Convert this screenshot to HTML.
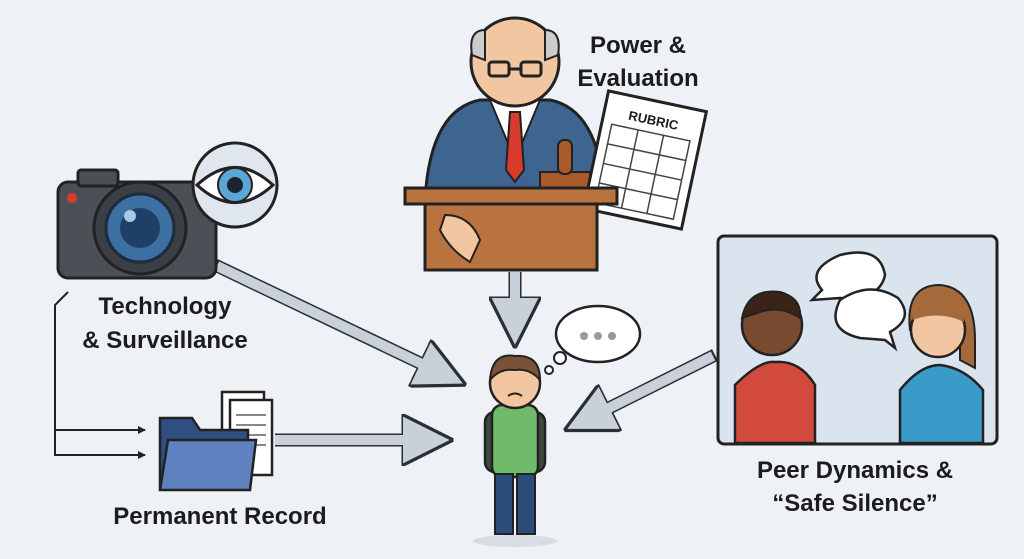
<!DOCTYPE html>
<html><head><meta charset="utf-8"><style>
html,body{margin:0;padding:0;background:#eef2f6;}
svg{display:block;}
text{font-family:"Liberation Sans",sans-serif;font-weight:bold;fill:#1c1c1c;}
</style></head><body>
<svg width="1024" height="559" viewBox="0 0 1024 559" xmlns="http://www.w3.org/2000/svg">
<rect width="1024" height="559" fill="#eef2f6"/>
<defs>
<marker id="ah" markerWidth="4" markerHeight="4" refX="2.2" refY="2" orient="auto" markerUnits="strokeWidth">
<path d="M0,0 L4,2 L0,4 Z" fill="#c8d1da" stroke="#2a2f36" stroke-width="0.25"/></marker>
<marker id="sm" markerWidth="8" markerHeight="8" refX="7" refY="4" orient="auto" markerUnits="userSpaceOnUse">
<path d="M0,0 L8,4 L0,8 Z" fill="#222"/></marker>
</defs>

<!-- big arrows -->
<g stroke="#2a2f36" stroke-width="13" stroke-linecap="butt">
<line x1="215" y1="265" x2="445" y2="375" marker-end="url(#ah)"/>
<line x1="275" y1="440" x2="430" y2="440" marker-end="url(#ah)"/>
<line x1="515" y1="272" x2="515" y2="325" marker-end="url(#ah)"/>
<line x1="715" y1="355" x2="585" y2="420" marker-end="url(#ah)"/>
</g>
<g stroke="#c8d1da" stroke-width="10">
<line x1="217" y1="266" x2="445" y2="375"/>
<line x1="275" y1="440" x2="430" y2="440"/>
<line x1="515" y1="272" x2="515" y2="325"/>
<line x1="713" y1="356" x2="585" y2="420"/>
</g>

<!-- camera -->
<rect x="58" y="182" width="158" height="96" rx="10" fill="#4b5056" stroke="#222" stroke-width="3"/>
<rect x="78" y="170" width="40" height="16" rx="3" fill="#4b5056" stroke="#222" stroke-width="3"/>
<circle cx="72" cy="198" r="5" fill="#e23a2a"/>
<circle cx="140" cy="228" r="46" fill="#3a3f45" stroke="#222" stroke-width="3"/>
<circle cx="140" cy="228" r="34" fill="#3c6fa2" stroke="#1e2c3c" stroke-width="3"/>
<circle cx="140" cy="228" r="20" fill="#1f3f66"/>
<circle cx="130" cy="216" r="6" fill="#a8c8e6"/>
<!-- eye -->
<circle cx="235" cy="185" r="42" fill="#dfe6ee" stroke="#222" stroke-width="3"/>
<path d="M197,185 Q235,150 273,185 Q235,220 197,185 Z" fill="#fff" stroke="#222" stroke-width="3"/>
<circle cx="235" cy="185" r="17" fill="#5aa6d4" stroke="#222" stroke-width="2"/>
<circle cx="235" cy="185" r="8" fill="#1b2530"/>

<text x="165" y="314" font-size="24" text-anchor="middle">Technology</text>
<text x="165" y="348" font-size="24" text-anchor="middle">&amp; Surveillance</text>

<!-- bracket lines -->
<polyline points="68,292 55,305 55,455 145,455" fill="none" stroke="#222" stroke-width="2" marker-end="url(#sm)"/>
<line x1="55" y1="430" x2="145" y2="430" stroke="#222" stroke-width="2" marker-end="url(#sm)"/>

<!-- folder & docs -->
<rect x="222" y="392" width="42" height="72" fill="#fff" stroke="#222" stroke-width="2.5"/>
<rect x="230" y="400" width="42" height="75" fill="#fff" stroke="#222" stroke-width="2.5"/>
<g stroke="#888" stroke-width="2"><line x1="236" y1="415" x2="266" y2="415"/><line x1="236" y1="425" x2="266" y2="425"/><line x1="236" y1="435" x2="266" y2="435"/><line x1="236" y1="445" x2="266" y2="445"/></g>
<path d="M160,418 L160,488 L248,488 L248,430 L200,430 L192,418 Z" fill="#2f4f80" stroke="#222" stroke-width="2.5"/>
<path d="M168,440 L256,440 L250,490 L160,490 Z" fill="#5d82bf" stroke="#222" stroke-width="2.5"/>
<text x="220" y="524" font-size="24" text-anchor="middle">Permanent Record</text>

<!-- teacher -->
<path d="M425,200 Q430,110 480,100 L550,100 Q600,110 605,200 Z" fill="#3e6590" stroke="#222" stroke-width="3"/>
<path d="M490,100 L515,160 L540,100 Z" fill="#fff" stroke="#222" stroke-width="2"/>
<path d="M510,112 L520,112 L524,170 L515,182 L506,170 Z" fill="#d83a2c" stroke="#222" stroke-width="2"/>
<circle cx="515" cy="62" r="44" fill="#f2c6a0" stroke="#222" stroke-width="3"/>
<path d="M472,55 Q468,30 485,30 L485,60 Z M558,55 Q562,30 545,30 L545,60 Z" fill="#ccc" stroke="#222" stroke-width="2"/>
<rect x="489" y="62" width="20" height="14" rx="3" fill="none" stroke="#222" stroke-width="3"/>
<rect x="521" y="62" width="20" height="14" rx="3" fill="none" stroke="#222" stroke-width="3"/>
<line x1="509" y1="69" x2="521" y2="69" stroke="#222" stroke-width="3"/>
<rect x="540" y="172" width="50" height="18" fill="#a85a2a" stroke="#222" stroke-width="2"/>
<rect x="558" y="140" width="14" height="34" rx="6" fill="#a85a2a" stroke="#222" stroke-width="2"/>
<!-- rubric -->
<g transform="rotate(12 645 160)">
<rect x="595" y="100" width="100" height="120" fill="#fff" stroke="#222" stroke-width="3"/>
<text x="645" y="124" font-size="13" text-anchor="middle">RUBRIC</text>
<g stroke="#444" stroke-width="1.5" fill="none">
<rect x="605" y="132" width="80" height="80"/>
<line x1="605" y1="152" x2="685" y2="152"/><line x1="605" y1="172" x2="685" y2="172"/><line x1="605" y1="192" x2="685" y2="192"/>
<line x1="632" y1="132" x2="632" y2="212"/><line x1="658" y1="132" x2="658" y2="212"/>
</g></g>
<!-- podium -->
<rect x="405" y="188" width="212" height="16" fill="#b8733f" stroke="#222" stroke-width="3"/>
<rect x="425" y="204" width="172" height="66" fill="#b8733f" stroke="#222" stroke-width="3"/>
<path d="M445,215 Q470,215 480,240 L470,262 Q450,250 440,230 Z" fill="#f2c6a0" stroke="#222" stroke-width="2"/>
<text x="638" y="53" font-size="24" text-anchor="middle">Power &amp;</text>
<text x="638" y="86" font-size="24" text-anchor="middle">Evaluation</text>

<!-- student -->
<ellipse cx="515" cy="541" rx="42" ry="6" fill="#d6dde4"/>
<rect x="485" y="412" width="60" height="60" rx="10" fill="#3e4a40" stroke="#222" stroke-width="2.5"/>
<rect x="492" y="405" width="46" height="72" rx="10" fill="#6fbb6a" stroke="#222" stroke-width="2.5"/>
<rect x="495" y="474" width="18" height="60" fill="#2c4d7a" stroke="#222" stroke-width="2"/>
<rect x="517" y="474" width="18" height="60" fill="#2c4d7a" stroke="#222" stroke-width="2"/>
<circle cx="515" cy="383" r="25" fill="#f2c6a0" stroke="#222" stroke-width="2.5"/>
<path d="M490,380 Q492,352 515,356 Q540,354 540,380 Q530,368 515,370 Q500,368 490,380 Z" fill="#7a5236" stroke="#222" stroke-width="2"/>
<path d="M508,396 Q515,391 522,396" fill="none" stroke="#222" stroke-width="2"/>
<!-- thought -->
<circle cx="549" cy="370" r="4" fill="#fff" stroke="#222" stroke-width="2"/>
<circle cx="560" cy="358" r="6" fill="#fff" stroke="#222" stroke-width="2"/>
<ellipse cx="598" cy="334" rx="42" ry="28" fill="#fff" stroke="#222" stroke-width="2.5"/>
<g fill="#999"><circle cx="584" cy="336" r="4"/><circle cx="598" cy="336" r="4"/><circle cx="612" cy="336" r="4"/></g>

<!-- peer panel -->
<rect x="718" y="236" width="279" height="208" rx="6" fill="#d9e4ee" stroke="#222" stroke-width="3"/>
<path d="M735,443 L735,385 Q760,360 775,362 Q800,360 815,385 L815,443 Z" fill="#d24a3c" stroke="#222" stroke-width="2.5"/>
<circle cx="772" cy="325" r="30" fill="#7a4a30" stroke="#222" stroke-width="2.5"/>
<path d="M742,318 Q748,288 780,292 Q802,298 800,318 Q780,305 760,312 Z" fill="#3a2418" stroke="#222" stroke-width="2"/>
<path d="M900,443 L900,390 Q920,365 940,365 Q965,368 983,390 L983,443 Z" fill="#3a9ac8" stroke="#222" stroke-width="2.5"/>
<path d="M910,330 Q905,285 940,285 Q975,288 975,340 L975,368 L960,360 L960,330 Z" fill="#a56a3c" stroke="#222" stroke-width="2"/>
<circle cx="938" cy="330" r="27" fill="#f2c6a0" stroke="#222" stroke-width="2.5"/>
<path d="M912,320 Q920,292 950,298 Q964,305 964,322 Q940,310 912,320 Z" fill="#a56a3c"/>
<path d="M812,300 L822,290 Q805,270 840,255 Q880,245 885,275 Q880,300 840,298 Z" fill="#fff" stroke="#222" stroke-width="2.5"/>
<path d="M885,340 L895,348 L890,332 Q915,318 898,298 Q870,280 840,300 Q825,330 860,338 Z" fill="#fff" stroke="#222" stroke-width="2.5"/>
<text x="855" y="478" font-size="24" text-anchor="middle">Peer Dynamics &amp;</text>
<text x="855" y="511" font-size="24" text-anchor="middle">“Safe Silence”</text>
</svg>
</body></html>
